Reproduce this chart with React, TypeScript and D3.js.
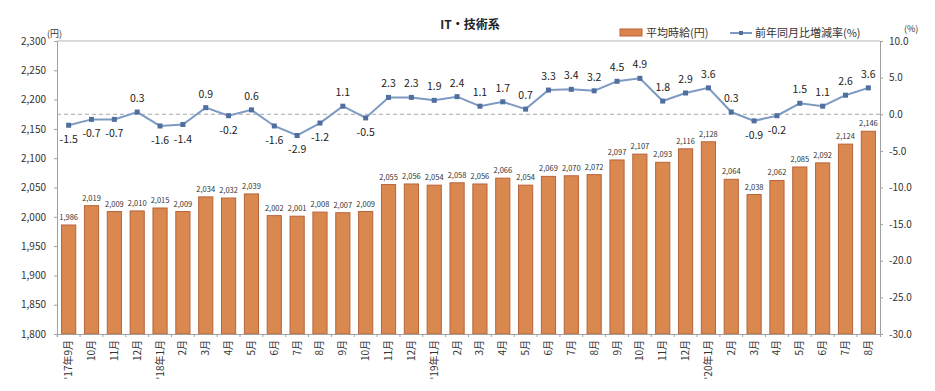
import React, { useRef, useEffect } from "react";
import * as d3 from "d3";

const months = [
  "'17年9月", "10月", "11月", "12月", "'18年1月", "2月", "3月", "4月", "5月", "6月", "7月", "8月",
  "9月", "10月", "11月", "12月", "'19年1月", "2月", "3月", "4月", "5月", "6月", "7月", "8月",
  "9月", "10月", "11月", "12月", "'20年1月", "2月", "3月", "4月", "5月", "6月", "7月", "8月",
];

const wages = [
  1986, 2019, 2009, 2010, 2015, 2009, 2034, 2032, 2039, 2002, 2001, 2008,
  2007, 2009, 2055, 2056, 2054, 2058, 2056, 2066, 2054, 2069, 2070, 2072,
  2097, 2107, 2093, 2116, 2128, 2064, 2038, 2062, 2085, 2092, 2124, 2146,
];

const yoy = [
  -1.5, -0.7, -0.7, 0.3, -1.6, -1.4, 0.9, -0.2, 0.6, -1.6, -2.9, -1.2,
  1.1, -0.5, 2.3, 2.3, 1.9, 2.4, 1.1, 1.7, 0.7, 3.3, 3.4, 3.2,
  4.5, 4.9, 1.8, 2.9, 3.6, 0.3, -0.9, -0.2, 1.5, 1.1, 2.6, 3.6,
];

const leftTicks = [1800, 1850, 1900, 1950, 2000, 2050, 2100, 2150, 2200, 2250, 2300];
const rightTicks = [-30, -25, -20, -15, -10, -5, 0, 5, 10];

const FONT = "'Noto Sans CJK JP', 'Noto Sans', sans-serif";

const App: React.FC = () => {
  const ref = useRef<SVGSVGElement | null>(null);

  useEffect(() => {
    if (!ref.current) return;
    const svg = d3.select(ref.current);
    svg.selectAll("*").remove();

    const left = 57;
    const right = 880;
    const top = 41;
    const bottom = 334;

    const idx = months.map((_, i) => i);
    const x = d3.scaleBand<number>().domain(idx).range([left, right]).paddingInner(0.38).paddingOuter(0.2);
    const yL = d3.scaleLinear().domain([1800, 2300]).range([bottom, top]);
    const yR = d3.scaleLinear().domain([-30, 10]).range([bottom, top]);

    // title
    svg.append("text")
      .attr("x", 470).attr("y", 29)
      .attr("text-anchor", "middle")
      .attr("font-family", FONT).attr("font-weight", "bold").attr("font-size", 12)
      .attr("fill", "#222").text("IT・技術系");

    // legend
    const lg = svg.append("g").attr("font-family", FONT).attr("font-size", 11).attr("fill", "#333");
    lg.append("rect").attr("x", 620).attr("y", 29).attr("width", 22).attr("height", 7)
      .attr("fill", "#d9844c").attr("stroke", "#c0603a").attr("stroke-width", 1);
    lg.append("text").attr("x", 646).attr("y", 37).text("平均時給(円)");
    lg.append("line").attr("x1", 730).attr("x2", 752).attr("y1", 33).attr("y2", 33)
      .attr("stroke", "#7c9ac2").attr("stroke-width", 2);
    lg.append("rect").attr("x", 739).attr("y", 31).attr("width", 4).attr("height", 4).attr("fill", "#4f6f9f");
    lg.append("text").attr("x", 755).attr("y", 37).text("前年同月比増減率(%)");

    // top border
    svg.append("line").attr("x1", left).attr("x2", right).attr("y1", top).attr("y2", top)
      .attr("stroke", "#b5b5b5").attr("stroke-width", 1);

    // left axis
    const gl = svg.append("g").attr("transform", `translate(${left},0)`)
      .call(d3.axisLeft(yL).tickValues(leftTicks).tickSize(3).tickPadding(8).tickFormat(d3.format(",")));
    gl.select(".domain").attr("stroke", "#a0a0a0");
    gl.selectAll(".tick line").attr("stroke", "#a0a0a0");
    gl.selectAll("text").attr("font-family", FONT).attr("font-size", 10).attr("fill", "#333");

    // right axis
    const gr = svg.append("g").attr("transform", `translate(${right},0)`)
      .call(d3.axisRight(yR).tickValues(rightTicks).tickSize(3).tickPadding(6).tickFormat(d3.format(".1f")));
    gr.select(".domain").attr("stroke", "#a0a0a0");
    gr.selectAll(".tick line").attr("stroke", "#a0a0a0");
    gr.selectAll("text").attr("font-family", FONT).attr("font-size", 10).attr("fill", "#333")
      .text((d: any) => (d as number).toFixed(1));

    // unit labels
    svg.append("text").attr("x", 47).attr("y", 37).attr("font-family", FONT).attr("font-size", 9)
      .attr("fill", "#333").text("(円)");
    svg.append("text").attr("x", 904).attr("y", 32).attr("font-family", FONT).attr("font-size", 9)
      .attr("fill", "#333").text("(%)");

    // bars
    svg.append("g").selectAll("rect").data(wages).enter().append("rect")
      .attr("x", (_, i) => x(i)!)
      .attr("y", (d) => yL(d))
      .attr("width", x.bandwidth())
      .attr("height", (d) => yL(1800) - yL(d))
      .attr("fill", "#d9894f")
      .attr("stroke", "#b9623c")
      .attr("stroke-width", 1);

    // bar labels
    svg.append("g").selectAll("text").data(wages).enter().append("text")
      .attr("x", (_, i) => x(i)! + x.bandwidth() / 2)
      .attr("y", (d) => yL(d) - 5)
      .attr("text-anchor", "middle")
      .attr("font-family", FONT).attr("font-size", 7.5).attr("fill", "#333")
      .text((d) => d3.format(",")(d));

    // bottom axis
    const gb = svg.append("g").attr("transform", `translate(0,${bottom})`)
      .call(d3.axisBottom(x).tickSize(3).tickFormat((i) => months[i as number]));
    gb.select(".domain").attr("stroke", "#a0a0a0");
    gb.selectAll(".tick line").attr("stroke", "#a0a0a0")
      .attr("transform", `translate(${-x.step() / 2},0)`);
    gb.selectAll("text")
      .attr("font-family", FONT).attr("font-size", 10).attr("fill", "#333")
      .attr("transform", "rotate(-90)")
      .attr("text-anchor", "end")
      .attr("x", -6).attr("y", 0).attr("dy", "0.35em");

    // zero dashed line
    svg.append("line").attr("x1", left).attr("x2", right).attr("y1", yR(0)).attr("y2", yR(0))
      .attr("stroke", "#a8a8a8").attr("stroke-dasharray", "4,3").attr("stroke-width", 1);

    // line
    const line = d3.line<number>()
      .x((_, i) => x(i)! + x.bandwidth() / 2)
      .y((d) => yR(d));
    svg.append("path").datum(yoy).attr("d", line).attr("fill", "none")
      .attr("stroke", "#7c9ac2").attr("stroke-width", 2);
    svg.append("g").selectAll("rect").data(yoy).enter().append("rect")
      .attr("x", (_, i) => x(i)! + x.bandwidth() / 2 - 2.5)
      .attr("y", (d) => yR(d) - 2.5)
      .attr("width", 5).attr("height", 5)
      .attr("fill", "#4f6f9f");

    svg.append("g").selectAll("text").data(yoy).enter().append("text")
      .attr("x", (_, i) => x(i)! + x.bandwidth() / 2)
      .attr("y", (d) => (d >= 0 ? yR(d) - 10 : yR(d) + 18))
      .attr("text-anchor", "middle")
      .attr("font-family", FONT).attr("font-size", 10.5).attr("fill", "#222")
      .text((d) => d.toFixed(1));
  }, []);

  return <svg ref={ref} width={935} height={391} style={{ display: "block", position: "absolute", left: 0, top: 0 }} />;
};

export default function AppRoot() {
  return <App />;
}
